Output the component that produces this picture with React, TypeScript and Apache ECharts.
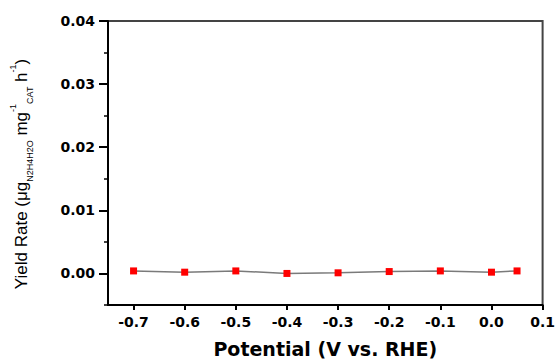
import React, { useEffect, useRef } from "react";
import * as echarts from "echarts";

// Measured potentials (V vs. RHE) and hydrazine yield rates
const potentials = [-0.7, -0.6, -0.5, -0.4, -0.3, -0.2, -0.1, 0.0, 0.05];
const yieldRates = [0.0004, 0.0002, 0.0004, 0.0, 0.0001, 0.0003, 0.0004, 0.0002, 0.0004];

// Axis tick values
const xTicks = [-0.7, -0.6, -0.5, -0.4, -0.3, -0.2, -0.1, 0.0, 0.1];
const yMajorTicks = [0.0, 0.01, 0.02, 0.03, 0.04];
const yMinorTicks = [-0.005, 0.005, 0.015, 0.025, 0.035];

const X_MIN = -0.75;
const X_MAX = 0.1;
const Y_MIN = -0.005;
const Y_MAX = 0.04;

const tickFont = "'DejaVu Sans', sans-serif";
const titleFont = "'Liberation Sans', Arial, sans-serif";

// an invisible axis that only contributes tick marks at given values
function tickOnlyAxis(values: number[], length: number, width: number, min: number, max: number, position: string) {
  return {
    type: "value",
    position,
    min,
    max,
    splitLine: { show: false },
    axisLine: { show: false, onZero: false },
    axisTick: {
      show: true,
      inside: false,
      length,
      customValues: values,
      lineStyle: { color: "#000", width },
    },
    axisLabel: { show: false, customValues: values },
  };
}

export default function App() {
  const ref = useRef<HTMLDivElement>(null);

  useEffect(() => {
    if (!ref.current) return;
    const chart = echarts.init(ref.current, undefined, { renderer: "svg" });

    const yName =
      "{m|Yield Rate (\u03bcg}{sub|N2H4H2O}{m| mg}{sup|-1}{sub|CAT}{m| h}{sup|-1}{m|)}";

    chart.setOption({
      animation: false,
      backgroundColor: "#ffffff",
      grid: {
        left: 102,
        right: 13,
        top: 21,
        bottom: 58,
        show: true,
        borderColor: "#444",
        borderWidth: 2,
        backgroundColor: "transparent",
      },
      xAxis: [
        {
          type: "value",
          position: "bottom",
          min: X_MIN,
          max: X_MAX,
          name: "Potential (V vs. RHE)",
          nameLocation: "middle",
          nameGap: 34,
          nameTextStyle: {
            fontFamily: tickFont,
            fontWeight: "bold",
            fontSize: 19,
            color: "#000",
          },
          splitLine: { show: false },
          axisLine: { show: true, onZero: false, lineStyle: { color: "#000", width: 2 } },
          axisTick: { show: false },
          axisLabel: {
            customValues: xTicks,
            margin: 10,
            fontFamily: tickFont,
            fontWeight: "bold",
            fontSize: 14,
            color: "#000",
            formatter: (v: number) => v.toFixed(1),
          },
        },
        tickOnlyAxis(xTicks, 5, 2, X_MIN, X_MAX, "bottom"),
      ],
      yAxis: [
        {
          type: "value",
          position: "left",
          min: Y_MIN,
          max: Y_MAX,
          name: yName,
          nameLocation: "middle",
          nameRotate: 90,
          nameGap: 74,
          nameTextStyle: {
            padding: [0, 22, 0, 0],
            rich: {
              m: { fontFamily: titleFont, fontSize: 17, color: "#000", lineHeight: 26, verticalAlign: "middle" },
              sub: { fontFamily: titleFont, fontSize: 9, color: "#000", lineHeight: 12, verticalAlign: "bottom" },
              sup: { fontFamily: titleFont, fontSize: 9, color: "#000", lineHeight: 12, verticalAlign: "top" },
            },
          },
          splitLine: { show: false },
          axisLine: { show: true, onZero: false, lineStyle: { color: "#000", width: 2 } },
          axisTick: { show: false },
          axisLabel: {
            customValues: yMajorTicks,
            margin: 13,
            fontFamily: tickFont,
            fontWeight: "bold",
            fontSize: 14,
            color: "#000",
            formatter: (v: number) => v.toFixed(2),
          },
        },
        tickOnlyAxis(yMajorTicks, 9, 2, Y_MIN, Y_MAX, "left"),
        tickOnlyAxis(yMinorTicks, 4, 1.5, Y_MIN, Y_MAX, "left"),
      ],
      series: [
        {
          type: "line",
          data: potentials.map((p, i) => [p, yieldRates[i]]),
          symbol: "rect",
          symbolSize: 7,
          lineStyle: { color: "#7a7a7a", width: 1.5 },
          itemStyle: { color: "#ff0000" },
          z: 3,
        },
      ],
    });

    return () => chart.dispose();
  }, []);

  return (
    <div
      ref={ref}
      style={{ position: "fixed", left: 0, top: 0, width: 558, height: 363, background: "#fff" }}
    />
  );
}
